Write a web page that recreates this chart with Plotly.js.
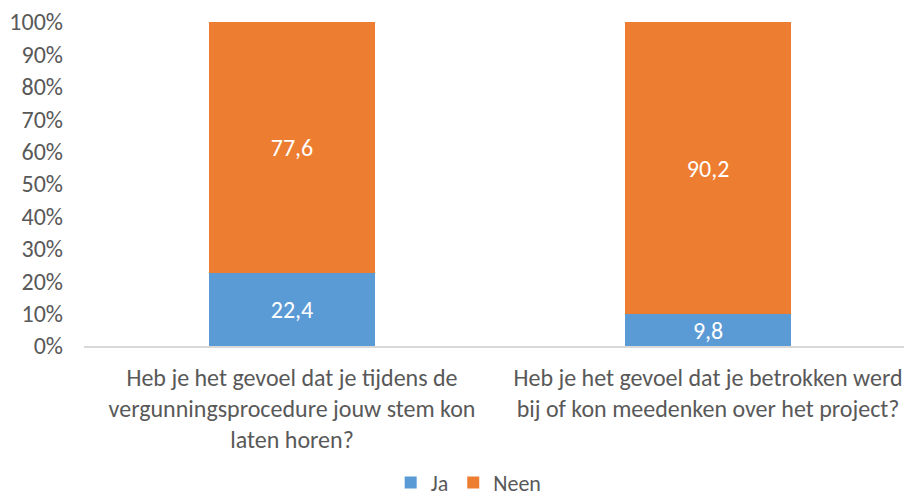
<!DOCTYPE html>
<html>
<head>
<meta charset="utf-8">
<script src="https://cdn.plot.ly/plotly-3.0.1.min.js"></script>
<style>html,body{margin:0;padding:0;background:#fff;}#chart{width:904px;height:497px;}</style>
</head>
<body>
<div id="chart"></div>
<script>
const categories = [
  "Heb je het gevoel dat je tijdens de<br>vergunningsprocedure jouw stem kon<br>laten horen?",
  "Heb je het gevoel dat je betrokken werd<br>bij of kon meedenken over het project?"
];
const jaValues = [22.4, 9.8];
const neenValues = [77.6, 90.2];
const yTickVals = [0,10,20,30,40,50,60,70,80,90,100];
const yTickText = yTickVals.map(v => v + '%');

const FONT = 'Carlito, Calibri, Lato, "Liberation Sans", sans-serif';
const GREY = '#595959';
const FS = 24;

const traces = [
  {type:'bar', name:'Ja', x:[0,1], y:jaValues, width:0.4,
   marker:{color:'#5B9BD5'}, texttemplate:'%{y:.1f}', textposition:'inside',
   insidetextanchor:'middle', constraintext:'none', cliponaxis:false,
   textfont:{color:'#ffffff', size:FS, family:FONT}, hoverinfo:'none'},
  {type:'bar', name:'Neen', x:[0,1], y:neenValues, width:0.4,
   marker:{color:'#ED7D31'}, texttemplate:'%{y:.1f}', textposition:'inside',
   insidetextanchor:'middle', constraintext:'none', cliponaxis:false,
   textfont:{color:'#ffffff', size:FS, family:FONT}, hoverinfo:'none'}
];

const layout = {
  width:904, height:497,
  margin:{l:84, r:0, t:22, b:151, autoexpand:false},
  barmode:'stack',
  separators:', ',
  paper_bgcolor:'#ffffff', plot_bgcolor:'#ffffff',
  font:{family:FONT, color:GREY, size:FS},
  showlegend:true,
  legend:{orientation:'h', x:0.374, xanchor:'left', y:-0.422, yanchor:'middle',
          font:{size:22, color:GREY, family:FONT}, itemwidth:30, traceorder:'normal'},
  xaxis:{range:[-0.5, 1.471], tickvals:[0,1], ticktext:categories, showgrid:false,
         showline:true, linecolor:'#D9D9D9', linewidth:2, zeroline:false, ticks:'',
         ticklabelstandoff:9,
         tickfont:{size:FS, color:GREY, family:FONT}, fixedrange:true},
  yaxis:{range:[0,100], tickvals:yTickVals, ticktext:yTickText, showgrid:false, zeroline:false,
         showline:false, ticks:'', ticklabelstandoff:20,
         tickfont:{size:FS, color:GREY, family:FONT}, fixedrange:true}
};

Plotly.newPlot('chart', traces, layout, {staticPlot:true, displayModeBar:false});
</script>
</body>
</html>
